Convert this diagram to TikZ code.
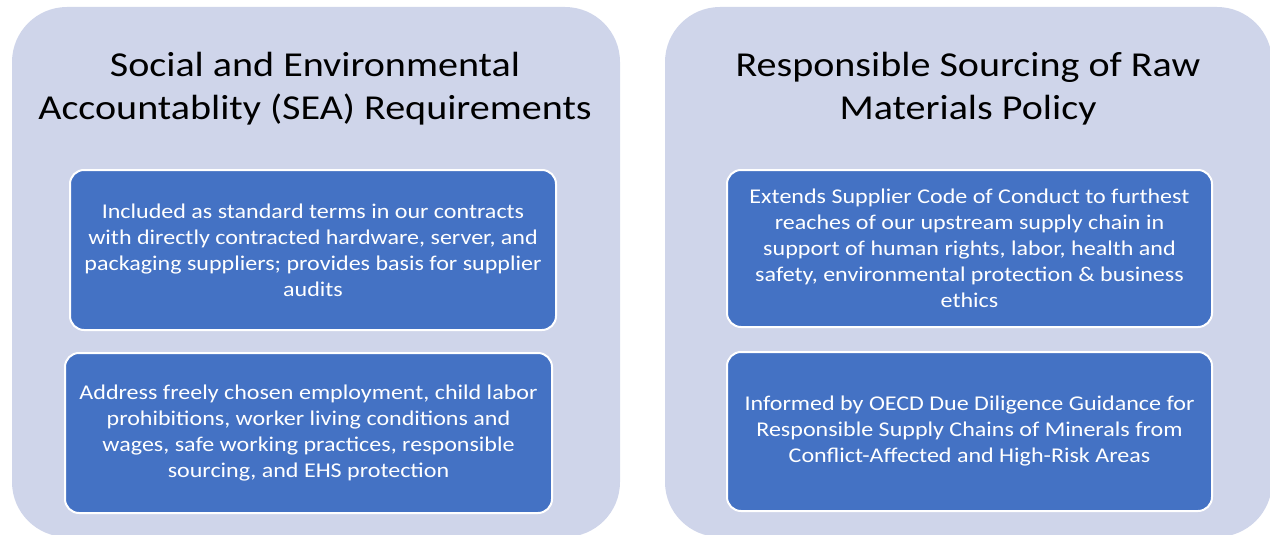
\documentclass[tikz,border=0pt]{standalone}
\usepackage{fontspec}
\setmainfont{Carlito}[FakeStretch=1.145]
\definecolor{panelfill}{HTML}{CFD5EA}
\definecolor{itemfill}{HTML}{4472C4}

\begin{document}
\begin{tikzpicture}[x=1pt, y=-1pt,
    panel/.style={fill=panelfill, rounded corners=55pt, inner sep=0pt},
    heading/.style={align=center, font=\fontsize{35}{43}\selectfont},
    item/.style={draw=white, line width=2pt, fill=itemfill, rounded corners=14pt,
      text=white, align=center, inner sep=0pt, font=\fontsize{21}{26}\selectfont}]
      \useasboundingbox (0,0) rectangle (1270,535);
      % Panels:
      \node[panel, minimum width=608pt, minimum height=530pt] (seapanel) at (316,272) {};
      \node[panel, minimum width=607pt, minimum height=530pt] (rspanel) at (968.5,272) {};
      % Titles:
      \node[heading] (seatitle) at (315,89) {Social and Environmental\\Accountablity (SEA) Requirements};
      \node[heading] (rstitle) at (968,89) {Responsible Sourcing of Raw\\Materials Policy};
      % Items:
      \node[item, minimum width=486pt, minimum height=160pt] (seaterms) at (313,250)
        {Included as standard terms in our contracts\\with directly contracted hardware, server, and\\packaging suppliers; provides basis for supplier\\audits};
      \node[item, minimum width=487pt, minimum height=160pt] (seaaddress) at (308.5,433)
        {Address freely chosen employment, child labor\\prohibitions, worker living conditions and\\wages, safe working practices, responsible\\sourcing, and EHS protection};
      \node[item, minimum width=485pt, minimum height=157pt] (rsextends) at (969.5,248.5)
        {Extends Supplier Code of Conduct to furthest\\reaches of our upstream supply chain in\\support of human rights, labor, health and\\safety, environmental protection \& business\\ethics};
      \node[item, minimum width=485pt, minimum height=159pt] (rsoecd) at (969.5,431.5)
        {Informed by OECD Due Diligence Guidance for\\Responsible Supply Chains of Minerals from\\Conflict-Affected and High-Risk Areas};
    \end{tikzpicture}
\end{document}
